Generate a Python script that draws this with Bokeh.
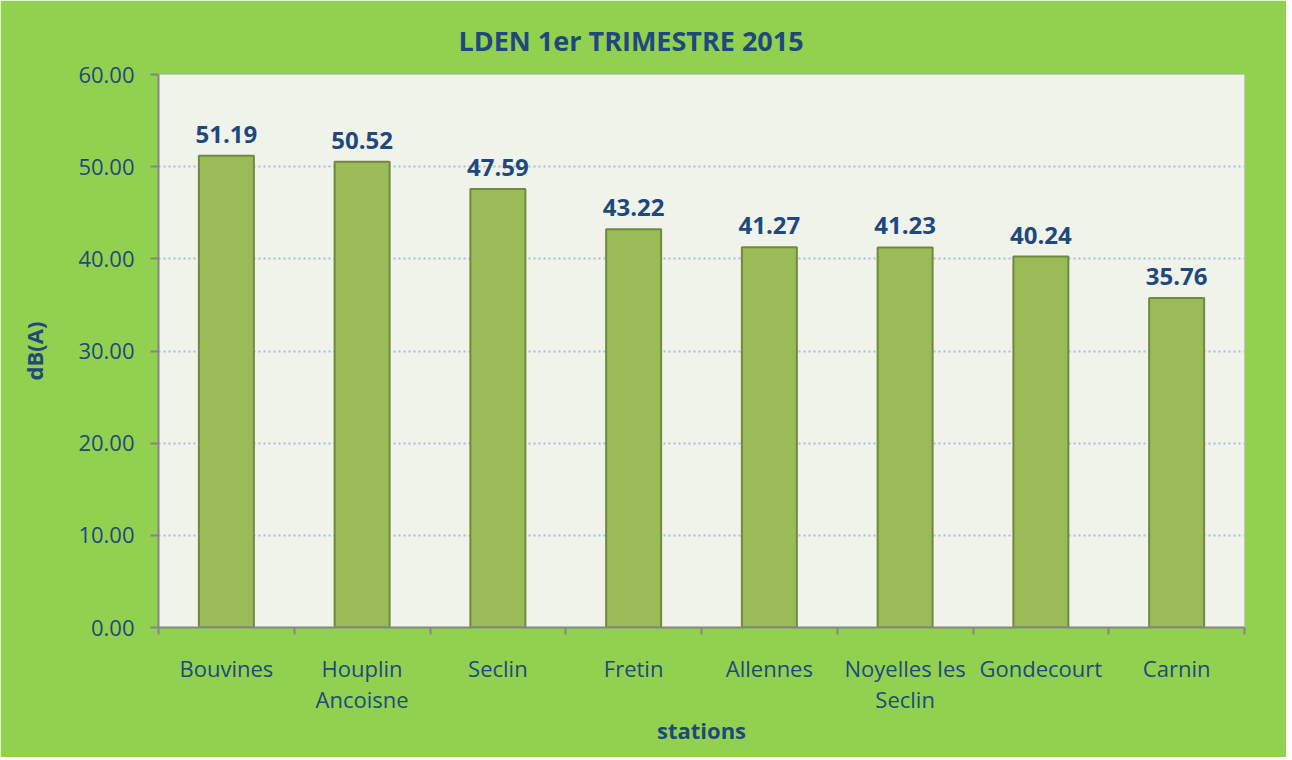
from bokeh.plotting import figure
from bokeh.models import FixedTicker, Range1d, ColumnDataSource, CustomJSTickFormatter
from bokeh.embed import file_html
from bokeh.resources import INLINE

stations = ["Bouvines", "Houplin\nAncoisne", "Seclin", "Fretin", "Allennes",
            "Noyelles les\nSeclin", "Gondecourt", "Carnin"]
values = [51.19, 50.52, 47.59, 43.22, 41.27, 41.23, 40.24, 35.76]
y_ticks = [0, 10, 20, 30, 40, 50, 60]
title_text = "LDEN 1er TRIMESTRE 2015"
y_label = "dB(A)"
x_label = "stations"

FONT = "Open Sans"
BLUE = "#1F497D"

xs = [i + 0.5 for i in range(len(stations))]
src = ColumnDataSource(dict(x=xs, top=values, lab=["%.2f" % v for v in values]))

p = figure(width=1286, height=757, output_backend="svg", toolbar_location=None,
           x_range=Range1d(0, len(stations)), y_range=Range1d(0, 60),
           min_border_left=158, min_border_right=42, min_border_top=74, min_border_bottom=130)
p.background_fill_color = "#F0F3EA"
p.border_fill_color = "#92D050"
p.outline_line_color = "#C2C8B8"
p.outline_line_width = 1

p.title.text = title_text
p.title.align = "left"
p.title.offset = 300
p.title.standoff = 32
p.title.text_font = FONT
p.title.text_font_size = "27px"
p.title.text_font_style = "bold"
p.title.text_color = BLUE

p.vbar(x="x", top="top", width=0.405, source=src, fill_color="#9BBB59",
       line_color="#71893F", line_width=2)
p.text(x="x", y="top", text="lab", source=src, text_align="center", text_baseline="bottom",
       y_offset=-13, text_font_size="24px", text_font_style="bold", text_color=BLUE,
       text_font={"value": FONT})

# axes
p.xaxis.ticker = FixedTicker(ticks=xs, minor_ticks=list(range(len(stations) + 1)))
p.xaxis.major_label_overrides = {x: s for x, s in zip(xs, stations)}
p.xaxis.major_tick_line_color = None
p.xaxis.minor_tick_line_color = "#868686"
p.xaxis.minor_tick_line_width = 2
p.xaxis.minor_tick_out = 7
p.xaxis.minor_tick_in = 0
p.xaxis.axis_line_color = "#868686"
p.xaxis.axis_line_width = 2
p.xaxis.major_label_standoff = 18
p.xaxis.major_label_text_font_size = "22px"
p.xaxis.major_label_text_color = BLUE
p.xaxis.major_label_text_font = FONT
p.xaxis.major_label_text_line_height = 1.05
p.xaxis.axis_label = x_label
p.xaxis.axis_label_text_font = FONT
p.xaxis.axis_label_text_font_size = "22px"
p.xaxis.axis_label_text_font_style = "bold"
p.xaxis.axis_label_text_color = BLUE
p.xaxis.axis_label_standoff = -2

p.yaxis.ticker = FixedTicker(ticks=y_ticks)
p.yaxis.formatter = CustomJSTickFormatter(code="return tick.toFixed(2);")
p.yaxis.minor_tick_line_color = None
p.yaxis.major_tick_line_color = "#868686"
p.yaxis.major_tick_line_width = 2
p.yaxis.major_tick_out = 8
p.yaxis.major_tick_in = 0
p.yaxis.axis_line_color = "#868686"
p.yaxis.axis_line_width = 2
p.yaxis.major_label_standoff = 16
p.yaxis.major_label_text_font_size = "22px"
p.yaxis.major_label_text_color = BLUE
p.yaxis.major_label_text_font = FONT
p.yaxis.axis_label = y_label
p.yaxis.axis_label_text_font = FONT
p.yaxis.axis_label_text_font_size = "22px"
p.yaxis.axis_label_text_font_style = "bold"
p.yaxis.axis_label_text_color = BLUE
p.yaxis.axis_label_standoff = 26

p.xgrid.grid_line_color = None
p.ygrid.ticker = FixedTicker(ticks=y_ticks[1:-1])
p.ygrid.grid_line_color = "#A3BCE6"
p.ygrid.grid_line_width = 2
p.ygrid.grid_line_dash = "2 3"

open("out.html", "w").write(file_html(p, INLINE))
